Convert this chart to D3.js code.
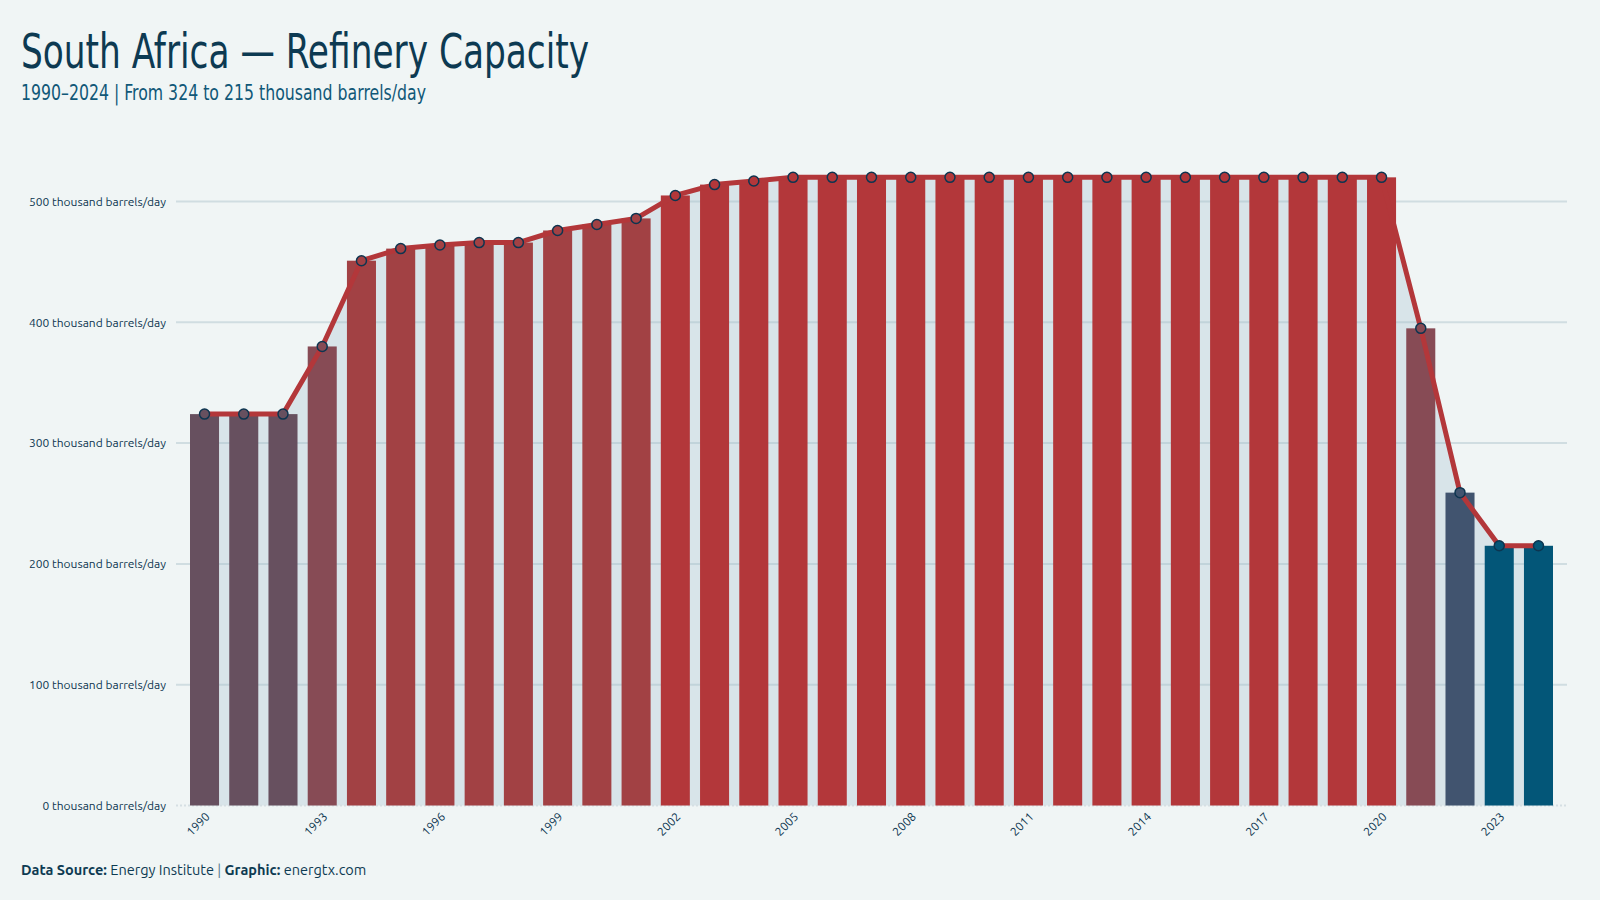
<!DOCTYPE html>
<html>
<head>
<meta charset="utf-8">
<script src="https://cdn.jsdelivr.net/npm/d3@7"></script>
<style>
  html, body { margin: 0; padding: 0; background: #f0f5f5; }
  svg { display: block; }
</style>
</head>
<body>
<div id="chart"></div>
<script>
// Refinery capacity, thousand barrels/day
const years = d3.range(1990, 2025);
const capacity = [
  324, 324, 324, 380, 451, 461, 464, 466, 466, 476,
  481, 486, 505, 514, 517, 520, 520, 520, 520, 520,
  520, 520, 520, 520, 520, 520, 520, 520, 520, 520,
  520, 395, 259, 215, 215
];
const yTicks = [0, 100, 200, 300, 400, 500];
const xTickYears = [1990, 1993, 1996, 1999, 2002, 2005, 2008, 2011, 2014, 2017, 2020, 2023];

const data = years.map((y, i) => ({ year: y, value: capacity[i] }));

const width = 1600, height = 900;
const navy = "#0d3550";
const condensed = "'Ubuntu Condensed', 'Liberation Sans Narrow', 'DejaVu Sans Condensed', 'DejaVu Sans', sans-serif";

const svg = d3.select("#chart").append("svg")
  .attr("width", width)
  .attr("height", height)
  .style("background", "#f0f5f5");

// titles (squeezed to the condensed width of the original)
svg.append("text")
  .attr("x", 21).attr("y", 68)
  .attr("textLength", 568)
  .attr("lengthAdjust", "spacingAndGlyphs")
  .style("font-family", condensed)
  .style("font-size", "48px")
  .style("fill", "#0d3a52")
  .text("South Africa — Refinery Capacity");

svg.append("text")
  .attr("x", 21).attr("y", 100)
  .attr("textLength", 405)
  .attr("lengthAdjust", "spacingAndGlyphs")
  .style("font-family", condensed)
  .style("font-size", "21px")
  .style("fill", "#115878")
  .text("1990–2024 | From 324 to 215 thousand barrels/day");

// scales
const x = d3.scaleBand()
  .domain(years)
  .range([176, 1567])
  .paddingInner(0.26)
  .paddingOuter(0.357);

const y = d3.scaleLinear()
  .domain([0, 550])
  .range([805.5, 805.5 - 550 * 1.208]);

const color = d3.scaleThreshold()
  .domain([240, 300, 350, 420, 500])
  .range(["#035678", "#41546f", "#67505f", "#874b55", "#a24144", "#b3373a"]);

const cx = d => x(d.year) + x.bandwidth() / 2;

// area under the line
const area = d3.area()
  .x(cx)
  .y0(y(0))
  .y1(d => y(d.value));

svg.append("path")
  .datum(data)
  .attr("d", area)
  .style("fill", "#d8e4e9");

// grid + y labels
const grid = svg.append("g");
grid.selectAll("line")
  .data(yTicks)
  .enter().append("line")
  .attr("x1", 176).attr("x2", 1567)
  .attr("y1", d => y(d)).attr("y2", d => y(d))
  .style("stroke", d => d === 0 ? "#d5dfe3" : "rgba(160,185,195,0.4)")
  .style("stroke-width", 2)
  .style("stroke-dasharray", d => d === 0 ? "2,2" : null);

grid.selectAll("text")
  .data(yTicks)
  .enter().append("text")
  .attr("x", 166)
  .attr("y", d => y(d))
  .attr("dy", "0.35em")
  .style("text-anchor", "end")
  .style("font-family", "'Ubuntu', 'Noto Sans', sans-serif")
  .style("font-size", "12px")
  .style("fill", navy)
  .text(d => d + " thousand barrels/day");

// bars
svg.selectAll(".bar")
  .data(data)
  .enter().append("rect")
  .attr("class", "bar")
  .attr("x", d => x(d.year))
  .attr("y", d => y(d.value))
  .attr("width", x.bandwidth())
  .attr("height", d => y(0) - y(d.value))
  .style("fill", d => color(d.value));

// line
const line = d3.line()
  .x(cx)
  .y(d => y(d.value));

svg.append("path")
  .datum(data)
  .attr("d", line)
  .style("fill", "none")
  .style("stroke", "#b3373a")
  .style("stroke-width", 5)
  .style("stroke-linejoin", "round");

// points
svg.selectAll(".pt")
  .data(data)
  .enter().append("circle")
  .attr("class", "pt")
  .attr("cx", cx)
  .attr("cy", d => y(d.value))
  .attr("r", 5)
  .style("fill", d => color(d.value))
  .style("stroke", navy)
  .style("stroke-width", 1.5);

// x tick labels
svg.selectAll(".xlab")
  .data(xTickYears)
  .enter().append("text")
  .attr("class", "xlab")
  .attr("transform", d => `translate(${x(d) + x.bandwidth() / 2 + 6},${y(0) + 12}) rotate(-45)`)
  .style("text-anchor", "end")
  .style("font-family", "'Ubuntu', 'Noto Sans', sans-serif")
  .style("font-size", "12px")
  .style("fill", navy)
  .text(d => d);

// footer
const foot = svg.append("text")
  .attr("x", 21).attr("y", 875)
  .style("font-family", "'Ubuntu', 'Noto Sans', sans-serif")
  .style("font-size", "14.5px")
  .style("fill", "#0d3a52");
foot.append("tspan").style("font-weight", "bold").text("Data Source: ");
foot.append("tspan").text("Energy Institute ");
foot.append("tspan").style("fill", "#5a7d8f").text("| ");
foot.append("tspan").style("font-weight", "bold").text("Graphic: ");
foot.append("tspan").text("energtx.com");
</script>
</body>
</html>
